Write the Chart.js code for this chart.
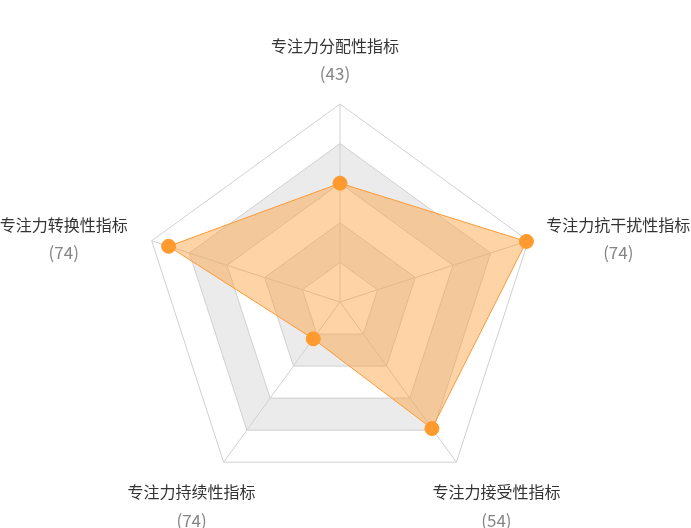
<!DOCTYPE html>
<html>
<head>
<meta charset="utf-8">
<script src="https://cdn.jsdelivr.net/npm/chart.js@4"></script>
<style>
  html, body { margin: 0; padding: 0; background: #fff; }
  #wrap { width: 691px; height: 528px; }
</style>
</head>
<body>
<div id="wrap"><canvas id="radar"></canvas></div>
<script>
// 指标名称（从顶部开始顺时针）
const labels = ["专注力分配性指标", "专注力抗干扰性指标", "专注力接受性指标", "专注力持续性指标", "专注力转换性指标"];
// 括号里的分数
const scores = [43, 74, 54, 74, 74];
// 雷达图上的点
const values = [60, 99, 79, 23, 91];
const maxValue = 100;
const greyBands = [[20, 40], [60, 80]];

// 名称和分数相对于外圈顶点的偏移
const labelOffsets = [
  { dx: -5, dy: -58 },
  { dx: 90, dy: -16 },
  { dx: 40, dy: 30 },
  { dx: -32, dy: 30 },
  { dx: -88, dy: -16 }
];

const font = '"Noto Sans CJK SC", "Noto Sans", sans-serif';

const bandPlugin = {
  id: "bands",
  beforeDraw(chart) {
    const scale = chart.scales.r;
    const ctx = chart.ctx;
    const n = labels.length;
    ctx.save();
    ctx.fillStyle = "#ebebeb";
    greyBands.forEach(b => {
      ctx.beginPath();
      for (let i = 0; i < n; i++) {
        const p = scale.getPointPositionForValue(i, b[1]);
        i === 0 ? ctx.moveTo(p.x, p.y) : ctx.lineTo(p.x, p.y);
      }
      ctx.closePath();
      for (let i = n - 1; i >= 0; i--) {
        const p = scale.getPointPositionForValue(i, b[0]);
        i === n - 1 ? ctx.moveTo(p.x, p.y) : ctx.lineTo(p.x, p.y);
      }
      ctx.closePath();
      ctx.fill("evenodd");
    });
    ctx.restore();
  },
  afterDraw(chart) {
    const scale = chart.scales.r;
    const ctx = chart.ctx;
    ctx.save();
    ctx.textAlign = "center";
    ctx.textBaseline = "middle";
    labels.forEach((name, i) => {
      const p = scale.getPointPositionForValue(i, maxValue);
      const o = labelOffsets[i];
      ctx.font = "16px " + font;
      ctx.fillStyle = "#333";
      ctx.fillText(name, p.x + o.dx, p.y + o.dy);
      ctx.font = "17px " + font;
      ctx.fillStyle = "#858585";
      ctx.fillText("(" + scores[i] + ")", p.x + o.dx, p.y + o.dy + 28);
    });
    ctx.restore();
  }
};

new Chart(document.getElementById("radar"), {
  type: "radar",
  data: {
    labels: labels,
    datasets: [{
      data: values,
      backgroundColor: "rgba(253,160,60,0.45)",
      borderColor: "#ff9933",
      borderWidth: 1,
      pointBackgroundColor: "#ff9a2e",
      pointBorderColor: "#ff9a2e",
      pointRadius: 7,
      pointHoverRadius: 7
    }]
  },
  options: {
    responsive: true,
    maintainAspectRatio: false,
    animation: false,
    layout: { padding: { top: 104, bottom: 28, left: 100, right: 111 } },
    plugins: { legend: { display: false }, tooltip: { enabled: false } },
    scales: {
      r: {
        min: 0,
        max: maxValue,
        ticks: { stepSize: 20, display: false },
        grid: { color: "#d0d0d0", lineWidth: 1 },
        angleLines: { color: "#d0d0d0", lineWidth: 1 },
        pointLabels: { display: false }
      }
    }
  },
  plugins: [bandPlugin]
});
</script>
</body>
</html>
